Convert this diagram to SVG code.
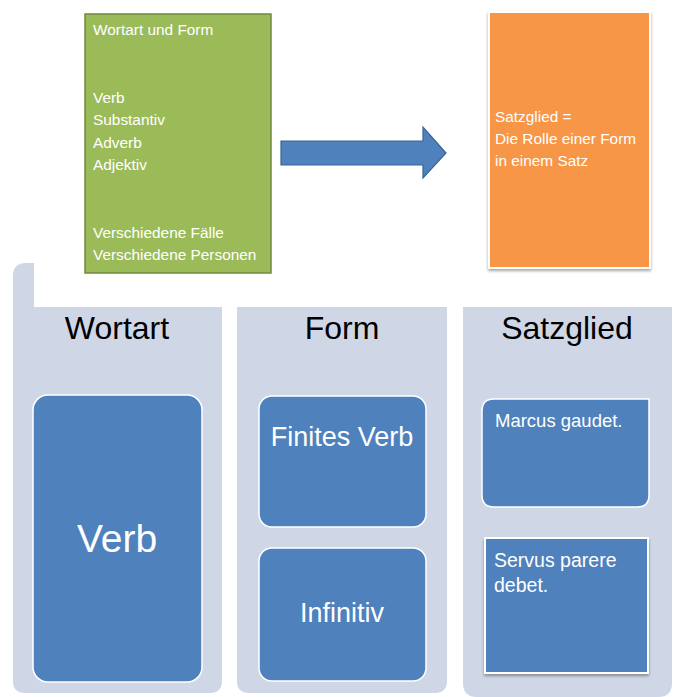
<svg xmlns="http://www.w3.org/2000/svg" width="678" height="697" viewBox="0 0 678 697">
<defs>
<style>
text{font-family:"Liberation Sans",Arial,sans-serif}
.col{fill:#CFD7E6}
.wt{fill:#FFFFFF;font-size:15.4px}
.hd{fill:#000000;font-size:32px;text-anchor:middle}
.blue{fill:#4F81BD;stroke:#FFFFFF;stroke-width:1.5}
.bt{fill:#FFFFFF;text-anchor:middle}
</style>
<filter id="sh" x="-10%" y="-10%" width="120%" height="120%">
<feDropShadow dx="0" dy="2" stdDeviation="1.5" flood-color="#000" flood-opacity="0.35"/>
</filter>
</defs>
<rect width="678" height="697" fill="#FFFFFF"/>

<g id="col-wortart">
<path class="col" d="M13,276 Q13,263 26,263 L34,263 L34,307 L222,307 L222,681 Q222,693 210,693 L25,693 Q13,693 13,681 Z"/>
<text class="hd" x="117" y="339">Wortart</text>
</g>
<g id="col-form">
<path class="col" d="M237,307 L447,307 L447,681 Q447,693 435,693 L249,693 Q237,693 237,681 Z"/>
<text class="hd" x="342" y="339">Form</text>
</g>
<g id="col-satzglied">
<path class="col" d="M463,307 L672,307 L672,683 Q672,697 658,697 L477,697 Q463,697 463,683 Z"/>
<text class="hd" x="567" y="339">Satzglied</text>
</g>

<g id="wortart-form">
<rect x="85" y="14" width="186" height="259" fill="#9BBB59" stroke="#71893F" stroke-width="1.5"/>
<text class="wt" x="93" y="35">Wortart und Form</text>
<text class="wt" x="93" y="103">Verb</text>
<text class="wt" x="93" y="125">Substantiv</text>
<text class="wt" x="93" y="148">Adverb</text>
<text class="wt" x="93" y="170">Adjektiv</text>
<text class="wt" x="93" y="238">Verschiedene Fälle</text>
<text class="wt" x="93" y="260">Verschiedene Personen</text>
</g>

<g id="connectors">
<path d="M281,141 L423,141 L423,127 L446,153 L423,178 L423,165 L281,165 Z" fill="#4F81BD" stroke="#3B6496" stroke-width="1.2"/>
</g>

<g id="satzglied-def">
<rect x="489" y="12" width="161" height="256" fill="#F79646" stroke="#FFFFFF" stroke-width="2" filter="url(#sh)"/>
<text class="wt" x="495" y="122">Satzglied =</text>
<text class="wt" x="495" y="144">Die Rolle einer Form</text>
<text class="wt" x="495" y="166">in einem Satz</text>
</g>

<g id="verb">
<rect class="blue" x="33" y="395" width="169" height="287" rx="15"/>
<text class="bt" x="117" y="552" font-size="39">Verb</text>
</g>
<g id="finites-verb">
<rect class="blue" x="259" y="396" width="167" height="131" rx="13"/>
<text class="bt" x="342" y="446" font-size="27">Finites Verb</text>
</g>
<g id="infinitiv">
<rect class="blue" x="259" y="548" width="167" height="133" rx="13"/>
<text class="bt" x="342" y="622" font-size="27">Infinitiv</text>
</g>
<g id="marcus">
<path class="blue" d="M494,399 L649,399 L649,495 Q649,507 637,507 L494,507 Q482,507 482,495 L482,411 Q482,399 494,399 Z"/>
<text x="495" y="427" fill="#FFFFFF" font-size="18.5">Marcus gaudet.</text>
</g>
<g id="servus">
<rect x="485" y="538" width="163" height="135" fill="#4F81BD" stroke="#FFFFFF" stroke-width="2" filter="url(#sh)"/>
<text x="494" y="567" fill="#FFFFFF" font-size="19.5">Servus parere</text>
<text x="494" y="592" fill="#FFFFFF" font-size="19.5">debet.</text>
</g>
</svg>
